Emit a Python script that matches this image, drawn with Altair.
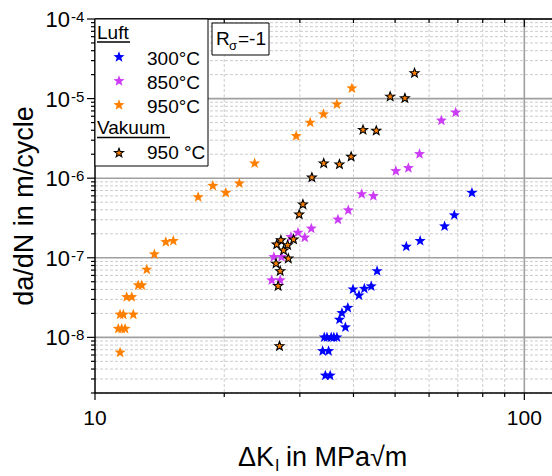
import altair as alt
import pandas as pd

# ---------------- data ----------------
blue_x = [75.5, 68.7, 65.2, 57.2, 53.1, 45.4, 44.0, 42.4, 39.9, 41.2, 38.8, 37.6, 37.1, 38.3,
          34.2, 34.7, 35.5, 36.0, 36.6, 33.9, 35.0, 34.4, 35.3]
blue_y = [6.55e-7, 3.43e-7, 2.49e-7, 1.63e-7, 1.38e-7, 6.8e-8, 4.39e-8, 4.09e-8, 4.01e-8, 3.37e-8,
          2.36e-8, 2.02e-8, 1.67e-8, 1.34e-8, 1.0e-8, 1.0e-8, 1.0e-8, 1.0e-8, 1.0e-8, 6.74e-9,
          6.74e-9, 3.31e-9, 3.31e-9]

mag_x = [69.2, 64.1, 57.0, 53.7, 50.2, 41.8, 44.5, 38.9, 36.8, 31.9, 30.8, 29.7, 28.6, 26.1,
         27.2, 25.8, 27.0]
mag_y = [6.67e-6, 5.31e-6, 2.01e-6, 1.34e-6, 1.23e-6, 6.31e-7, 5.98e-7, 3.96e-7, 3.03e-7,
         2.33e-7, 1.80e-7, 2.07e-7, 1.83e-7, 1.02e-7, 1.02e-7, 5.21e-8, 5.21e-8]

orange_x = [11.44, 11.33, 11.54, 11.75, 11.44, 11.64, 12.28, 11.85, 12.18, 12.61, 12.85, 13.2,
            13.75, 14.62, 15.22, 17.39, 18.81, 20.17, 21.69, 23.54, 29.42, 31.71, 34.06, 36.59,
            39.66]
orange_y = [6.45e-9, 1.28e-8, 1.28e-8, 1.28e-8, 1.94e-8, 1.94e-8, 1.94e-8, 3.21e-8, 3.21e-8,
            4.51e-8, 4.51e-8, 7.10e-8, 1.107e-7, 1.58e-7, 1.63e-7, 5.78e-7, 8.02e-7, 6.55e-7,
            8.6e-7, 1.535e-6, 3.39e-6, 4.99e-6, 6.37e-6, 8.5e-6, 1.35e-5]

vak_x = [55.5, 48.7, 52.7, 42.1, 45.2, 39.5, 34.1, 37.1, 32.0, 30.5, 29.9, 27.1, 26.5, 29.0,
         28.1, 27.5, 28.2, 26.4, 27.0, 26.7, 26.9]
vak_y = [2.09e-5, 1.06e-5, 1.01e-5, 4.04e-6, 3.95e-6, 1.86e-6, 1.535e-6, 1.49e-6, 1.02e-6,
         4.68e-7, 3.50e-7, 1.66e-7, 1.47e-7, 1.70e-7, 1.44e-7, 1.24e-7, 9.78e-8, 8.45e-8,
         6.80e-8, 4.41e-8, 7.75e-9]

x_major_vals = [10, 100]
x_minor_vals = [20, 30, 40, 50, 60, 70, 80, 90]
x_label_text = ["10", "100"]
y_major_vals = [1e-4, 1e-5, 1e-6, 1e-7, 1e-8]
y_exp_text = ["-4", "-5", "-6", "-7", "-8"]
y_minor_vals = [2e-9, 3e-9, 4e-9, 5e-9, 6e-9, 7e-9, 8e-9, 9e-9,
                2e-8, 3e-8, 4e-8, 5e-8, 6e-8, 7e-8, 8e-8, 9e-8,
                2e-7, 3e-7, 4e-7, 5e-7, 6e-7, 7e-7, 8e-7, 9e-7,
                2e-6, 3e-6, 4e-6, 5e-6, 6e-6, 7e-6, 8e-6, 9e-6,
                2e-5, 3e-5, 4e-5, 5e-5, 6e-5, 7e-5, 8e-5, 9e-5]

# ---------------- styling ----------------
FONT = "Liberation Sans"
W, H = 457, 374
BLUE, MAG, ORANGE = "#0000ff", "#cc3bf5", "#ff8000"
STAR = 135
STAR_SMALL = 90
MAJ_GRID = "#a0a0a0"
MIN_GRID = "#cccccc"
# five-pointed star inside the [-1, 1] box (Vega custom symbol path)
STAR_PATH = ("M0,-1L0.2469,-0.3398L0.9511,-0.309L0.3995,0.1298L0.5878,0.809"
             "L0,0.42L-0.5878,0.809L-0.3995,0.1298L-0.9511,-0.309L-0.2469,-0.3398Z")

xscale = alt.Scale(type="log", domain=[10, 116], nice=False)
yscale = alt.Scale(type="log", domain=[2e-9, 1e-4], nice=False)

X = alt.X("x:Q", scale=xscale, axis=None)
Y = alt.Y("y:Q", scale=yscale, axis=None)

one = pd.DataFrame({"a": [0]})


def star_kw(color, stroke, size):
    kw = dict(shape=STAR_PATH, filled=True, size=size, fill=color, opacity=1)
    if stroke:
        kw.update(stroke=stroke, strokeWidth=1.1)
    else:
        kw.update(strokeWidth=0)
    return kw


def series(xs, ys, color, stroke=None, size=STAR):
    df = pd.DataFrame({"x": xs, "y": ys})
    return alt.Chart(df).mark_point(**star_kw(color, stroke, size)).encode(x=X, y=Y)


def star_at(x, y, color, stroke=None, size=STAR):
    return alt.Chart(one).mark_point(**star_kw(color, stroke, size)).encode(
        x=alt.value(x), y=alt.value(y))


def txt(text, x, y, size, align="left", baseline="alphabetic", angle=0):
    kw = dict(text=text, font=FONT, fontSize=size, align=align, baseline=baseline,
              color="black")
    if angle:
        kw["angle"] = angle
    return alt.Chart(one).mark_text(**kw).encode(x=alt.value(x), y=alt.value(y))


def box(x1, x2, y1, y2):
    return alt.Chart(one).mark_rect(fill="white", stroke="black", strokeWidth=1).encode(
        x=alt.value(x1), x2=alt.value(x2), y=alt.value(y1), y2=alt.value(y2))


def hline(x1, x2, y, w=1.5, color="black"):
    return alt.Chart(one).mark_rule(color=color, strokeWidth=w).encode(
        x=alt.value(x1), x2=alt.value(x2), y=alt.value(y))


def vline(x, y1, y2, w=1.5, color="black"):
    return alt.Chart(one).mark_rule(color=color, strokeWidth=w).encode(
        x=alt.value(x), y=alt.value(y1), y2=alt.value(y2))


def xrules(vals, y1, y2, color, w, dash=None):
    kw = dict(color=color, strokeWidth=w)
    if dash:
        kw["strokeDash"] = dash
    return alt.Chart(pd.DataFrame({"x": vals})).mark_rule(**kw).encode(
        x=X, y=alt.value(y1), y2=alt.value(y2))


def yrules(vals, x1, x2, color, w, dash=None):
    kw = dict(color=color, strokeWidth=w)
    if dash:
        kw["strokeDash"] = dash
    return alt.Chart(pd.DataFrame({"y": vals})).mark_rule(**kw).encode(
        y=Y, x=alt.value(x1), x2=alt.value(x2))


# x tick labels
xlab = alt.Chart(pd.DataFrame({"x": x_major_vals, "t": x_label_text})).mark_text(
    font=FONT, fontSize=21, align="center", baseline="alphabetic", color="black").encode(
    x=X, y=alt.value(406), text="t:N")

# y tick labels: "10" with superscript exponent
ydf = pd.DataFrame({"y": y_major_vals, "e": y_exp_text, "b": ["10"] * 5})
ylab_base = alt.Chart(ydf).mark_text(
    font=FONT, fontSize=22, align="right", baseline="alphabetic", dy=8, color="black").encode(
    y=Y, x=alt.value(-25), text="b:N")
ylab_exp = alt.Chart(ydf).mark_text(
    font=FONT, fontSize=15, align="left", baseline="alphabetic", dy=3, color="black").encode(
    y=Y, x=alt.value(-24), text="e:N")

layers = [
    # grid
    yrules(y_minor_vals, 0, W, MIN_GRID, 1, [3, 2]),
    xrules(x_minor_vals, 0, H, MIN_GRID, 1, [3, 2]),
    yrules(y_major_vals, 0, W, MAJ_GRID, 1.6),
    xrules([100], 0, H, MAJ_GRID, 1.6),
    # data
    series(orange_x, orange_y, ORANGE),
    series(blue_x, blue_y, BLUE),
    series(mag_x, mag_y, MAG),
    series(vak_x, vak_y, ORANGE, stroke="black", size=STAR_SMALL),
    # frame and ticks
    hline(0, W, 0, 1.5),
    hline(0, W, H, 1.5),
    vline(0, 0, H, 1.5),
    yrules(y_major_vals, -8, 0, "black", 1.2),
    yrules(y_minor_vals, -4, 0, "black", 1.2),
    xrules(x_major_vals, H, H + 7, "black", 1.2),
    xrules(x_minor_vals, H, H + 4, "black", 1.2),
    xrules(x_minor_vals, 0, 4, "black", 1.2),
    xrules([100], 0, 8, "black", 1.2),
    xlab, ylab_base, ylab_exp,
    # legend box
    box(0, 113, 0, 147),
    txt("Luft", 2, 20, 19), hline(2, 35, 23, 1.5),
    star_at(24, 38, BLUE), txt("300°C", 52, 46, 19),
    star_at(24, 62, MAG), txt("850°C", 52, 70, 19),
    star_at(24, 86, ORANGE), txt("950°C", 52, 94, 19),
    txt("Vakuum", 2, 115, 19), hline(2, 75, 118.5, 1.5),
    star_at(24, 134, ORANGE, stroke="black", size=STAR_SMALL), txt("950 °C", 52, 140, 19),
    # R_sigma box
    box(117, 174, 4, 36),
    txt("R", 121, 26, 19), txt("σ", 134, 31, 13), txt("=-1", 143, 26, 19),
    # axis titles
    txt("ΔK", 143, 447, 27), txt("I", 180, 452, 16), txt("in MPa√m", 191, 447, 27),
    txt("da/dN in m/cycle", -62, 187, 27, align="center", angle=270),
]

chart = alt.layer(*layers).properties(
    width=W, height=H,
    autosize=alt.AutoSizeParams(type="none"),
    padding={"left": 95, "top": 19, "right": 0, "bottom": 83},
    background="white",
).configure_view(stroke=None)

chart.save("out.html", embed_options={"renderer": "svg", "actions": False})
